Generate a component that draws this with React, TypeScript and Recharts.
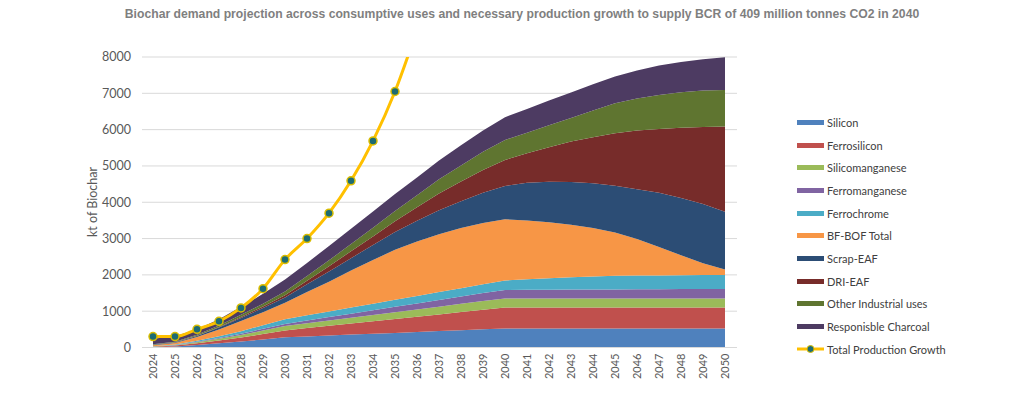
import React from 'react';
import { ComposedChart, Area, Line, XAxis, YAxis, CartesianGrid } from 'recharts';

// Years on the category axis
const YEARS = [
  '2024', '2025', '2026', '2027', '2028', '2029', '2030', '2031', '2032', '2033', '2034', '2035', '2036', '2037',
  '2038', '2039', '2040', '2041', '2042', '2043', '2044', '2045', '2046', '2047', '2048', '2049', '2050',
];

// kt of biochar per use (stacked, bottom to top)
const SILICON = [10, 30, 70, 115, 165, 220, 280, 305, 330, 355, 378, 402, 428, 452, 478, 502, 525, 525, 525, 525, 525, 525, 525, 525, 525, 525, 525];
const FERROSILICON = [10, 22, 48, 78, 110, 150, 190, 230, 268, 305, 345, 385, 420, 460, 500, 540, 575, 575, 575, 575, 575, 575, 575, 575, 575, 575, 575];
const SILICOMANGANESE = [5, 12, 28, 48, 70, 95, 120, 133, 146, 160, 173, 186, 198, 212, 225, 238, 250, 250, 250, 250, 250, 250, 250, 250, 250, 250, 250];
const FERROMANGANESE = [3, 6, 14, 24, 35, 48, 60, 78, 95, 112, 130, 148, 165, 183, 200, 218, 235, 240, 242, 245, 248, 250, 253, 255, 258, 260, 262];
const FERROCHROME = [5, 12, 28, 48, 70, 100, 130, 140, 155, 168, 180, 192, 208, 219, 229, 241, 260, 290, 315, 340, 360, 375, 378, 380, 382, 384, 385];
const BF_BOF = [30, 45, 100, 180, 280, 360, 450, 643, 816, 1020, 1204, 1377, 1501, 1594, 1658, 1691, 1685, 1620, 1543, 1445, 1332, 1195, 1009, 785, 550, 326, 148];
const SCRAP_EAF = [10, 14, 32, 58, 85, 115, 150, 210, 280, 340, 410, 490, 570, 660, 740, 830, 919, 1040, 1118, 1179, 1233, 1285, 1370, 1490, 1580, 1630, 1596];
const DRI_EAF = [0, 2, 6, 14, 25, 40, 60, 100, 150, 190, 240, 300, 370, 460, 540, 630, 716, 809, 947, 1111, 1267, 1445, 1613, 1759, 1935, 2124, 2342];
const OTHER_INDUSTRIAL = [15, 18, 28, 42, 60, 80, 100, 130, 160, 200, 240, 280, 330, 390, 440, 500, 551, 568, 606, 652, 740, 827, 882, 937, 975, 1001, 1011];
const RESPONSIBLE_CHARCOAL = [150, 150, 150, 170, 220, 270, 330, 360, 395, 420, 445, 470, 495, 520, 560, 585, 626, 653, 678, 698, 720, 733, 771, 807, 835, 864, 900];

// Total production growth line (runs off the top after 2035)
const PRODUCTION_GROWTH = [300, 300, 500, 720, 1090, 1620, 2420, 3000, 3700, 4590, 5690, 7050, 8750,
  null, null, null, null, null, null, null, null, null, null, null, null, null, null];

const Y_TICKS = [0, 1000, 2000, 3000, 4000, 5000, 6000, 7000, 8000];

const SERIES = [
  { key: 'silicon', name: 'Silicon', color: '#4f81bd', values: SILICON },
  { key: 'ferrosilicon', name: 'Ferrosilicon', color: '#c0504d', values: FERROSILICON },
  { key: 'silicomanganese', name: 'Silicomanganese', color: '#9bbb59', values: SILICOMANGANESE },
  { key: 'ferromanganese', name: 'Ferromanganese', color: '#8064a2', values: FERROMANGANESE },
  { key: 'ferrochrome', name: 'Ferrochrome', color: '#4bacc6', values: FERROCHROME },
  { key: 'bfBof', name: 'BF-BOF Total', color: '#f79646', values: BF_BOF },
  { key: 'scrapEaf', name: 'Scrap-EAF', color: '#2c4d75', values: SCRAP_EAF },
  { key: 'driEaf', name: 'DRI-EAF', color: '#772c2a', values: DRI_EAF },
  { key: 'other', name: 'Other Industrial uses', color: '#5f7530', values: OTHER_INDUSTRIAL },
  { key: 'charcoal', name: 'Responisble Charcoal', color: '#4d3b62', values: RESPONSIBLE_CHARCOAL },
];

const LINE_COLOR = '#ffc000';
const DOT_COLOR = '#1d6b73';

const data = YEARS.map((year, i) => {
  const row: Record<string, any> = { year, growth: PRODUCTION_GROWTH[i] };
  SERIES.forEach((s) => { row[s.key] = s.values[i]; });
  return row;
});

const FONT = 'Lato, "Open Sans", sans-serif';

const YearTick = ({ x, y, payload }: any) => (
  <g transform={`translate(${x},${y})`}>
    <text transform="rotate(-90)" textAnchor="end" dy="0.35em" fill="#595959" fontSize={11} fontFamily={FONT}>
      {payload.value}
    </text>
  </g>
);

const ChartLegend = () => (
  <div style={{ position: 'absolute', left: 797, top: 111, fontFamily: FONT, fontSize: 11, color: '#404040' }}>
    {SERIES.map((s) => (
      <div key={s.key} style={{ display: 'flex', alignItems: 'center', height: 22.7 }}>
        <span style={{ display: 'inline-block', width: 27, height: 5, background: s.color, marginRight: 3 }} />
        {s.name}
      </div>
    ))}
    <div style={{ display: 'flex', alignItems: 'center', height: 22.7 }}>
      <svg width={27} height={10} style={{ marginRight: 3 }}>
        <line x1={0} y1={5} x2={27} y2={5} stroke={LINE_COLOR} strokeWidth={3} />
        <circle cx={13.5} cy={5} r={3.5} fill={DOT_COLOR} stroke="#d9bd00" strokeWidth={1} />
      </svg>
      Total Production Growth
    </div>
  </div>
);

export default function App() {
  return (
    <div style={{ position: 'absolute', left: 0, top: 0, width: 1024, height: 394, background: '#ffffff' }}>
      <div
        style={{
          position: 'absolute', left: 0, top: 7, width: 1044, textAlign: 'center',
          fontFamily: '"Liberation Sans", Arial, sans-serif', fontWeight: 'bold', fontSize: 12.2, color: '#7f7f7f',
        }}
      >
        Biochar demand projection across consumptive uses and necessary production growth to supply BCR of 409 million tonnes CO2 in 2040
      </div>
      <div
        style={{
          position: 'absolute', left: 92, top: 202, transform: 'translate(-50%, -50%) rotate(-90deg)',
          whiteSpace: 'nowrap', fontFamily: FONT, fontSize: 12.5, color: '#595959',
        }}
      >
        kt of Biochar
      </div>
      <ComposedChart width={1024} height={394} data={data} margin={{ top: 57, right: 287, bottom: 6.5, left: 82 }}>
        <CartesianGrid stroke="#d9d9d9" vertical={false} />
        <XAxis
          dataKey="year"
          scale="point"
          padding={{ left: 11, right: 12 }}
          height={40}
          interval={0}
          tickLine={false}
          tickSize={0}
          tickMargin={6}
          stroke="#d9d9d9"
          tick={<YearTick />}
        />
        <YAxis
          width={60}
          domain={[0, 8000]}
          ticks={Y_TICKS}
          allowDataOverflow
          axisLine={false}
          tickLine={false}
          tickSize={0}
          tickMargin={11}
          tick={{ fill: '#595959', fontSize: 12.5, fontFamily: FONT }}
        />
        {SERIES.map((s) => (
          <Area
            key={s.key}
            type="linear"
            dataKey={s.key}
            name={s.name}
            stackId="uses"
            stroke="none"
            fill={s.color}
            fillOpacity={1}
            isAnimationActive={false}
          />
        ))}
        <Line
          type="monotone"
          dataKey="growth"
          name="Total Production Growth"
          stroke={LINE_COLOR}
          strokeWidth={3}
          dot={{ r: 4, fill: DOT_COLOR, stroke: '#d9bd00', strokeWidth: 1.5 }}
          activeDot={false}
          isAnimationActive={false}
        />
      </ComposedChart>
      <ChartLegend />
    </div>
  );
}
